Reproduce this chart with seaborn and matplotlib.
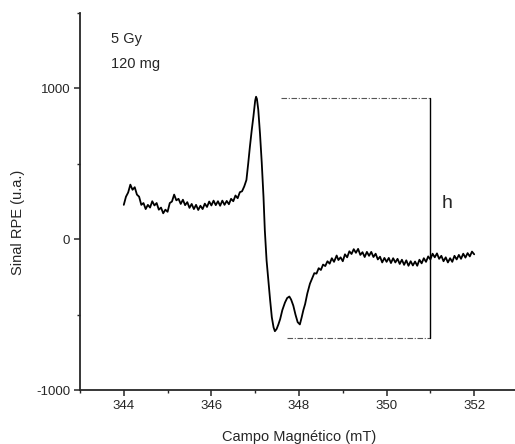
import matplotlib
matplotlib.use('Agg')
import matplotlib.pyplot as plt
import seaborn as sns
import pandas as pd
from matplotlib.ticker import MultipleLocator

# campo magnetico (mT) e sinal RPE (u.a.)
field = [
    344.00, 344.05, 344.10, 344.15, 344.20, 344.25, 344.30, 344.35, 344.40, 344.45,
    344.50, 344.55, 344.60, 344.65, 344.70, 344.75, 344.80, 344.85, 344.90, 344.95,
    345.00, 345.05, 345.10, 345.15, 345.20, 345.25, 345.30, 345.35, 345.40, 345.45,
    345.50, 345.55, 345.60, 345.65, 345.70, 345.75, 345.80, 345.85, 345.90, 345.95,
    346.00, 346.05, 346.10, 346.15, 346.20, 346.25, 346.30, 346.35, 346.40, 346.45,
    346.50, 346.55, 346.60, 346.65, 346.70, 346.75,
    346.80, 346.84, 346.88, 346.92, 346.96, 347.00, 347.02, 347.04, 347.07, 347.11,
    347.15, 347.19, 347.22, 347.26, 347.30, 347.34, 347.38, 347.42, 347.45, 347.49,
    347.53, 347.57, 347.62, 347.68, 347.73, 347.78, 347.82, 347.87, 347.92, 347.97,
    348.02, 348.06, 348.10, 348.14, 348.19, 348.25,
    348.30, 348.35, 348.40, 348.45, 348.50, 348.55, 348.60, 348.65, 348.70, 348.75,
    348.80, 348.86, 348.90, 348.95, 349.00, 349.05, 349.10, 349.15, 349.20, 349.25,
    349.30, 349.35, 349.40, 349.45, 349.50, 349.55, 349.60, 349.65, 349.70, 349.75,
    349.80, 349.85, 349.90, 349.95, 350.00, 350.05, 350.10, 350.15, 350.20, 350.25,
    350.30, 350.35, 350.40, 350.45, 350.50, 350.55, 350.60, 350.65, 350.70, 350.75,
    350.80, 350.85, 350.90, 350.95, 351.00, 351.05, 351.10, 351.15, 351.20, 351.25,
    351.30, 351.35, 351.40, 351.45, 351.50, 351.55, 351.60, 351.65, 351.70, 351.75,
    351.80, 351.85, 351.90, 351.95, 352.00,
]
signal = [
    228, 282, 310, 362, 328, 345, 296, 282, 228, 240,
    200, 228, 210, 252, 224, 240, 196, 210, 172, 196,
    182, 240, 250, 296, 258, 268, 234, 262, 226, 246,
    208, 234, 200, 228, 194, 222, 200, 236, 214, 250,
    224, 256, 226, 252, 222, 256, 228, 254, 232, 268,
    252, 290, 272, 312, 318, 350,
    393, 500, 615, 720, 815, 920, 945, 930, 860, 700,
    507, 280, 60, -140, -273, -400, -518, -585, -610, -595,
    -565, -530, -470, -420, -390, -380, -400, -440, -500, -550,
    -565, -520, -470, -430, -360, -295,
    -260, -225, -228, -192, -204, -168, -178, -146, -162, -126,
    -150, -108, -138, -120, -146, -100, -120, -80, -98, -66,
    -90, -64, -104, -86, -118, -84, -110, -84, -118, -96,
    -134, -116, -154, -124, -150, -124, -158, -126, -154, -130,
    -164, -136, -170, -140, -176, -146, -174, -148, -176, -136,
    -160, -126, -150, -114, -134, -96, -120, -94, -130, -110,
    -146, -120, -154, -126, -150, -110, -134, -104, -130, -96,
    -122, -92, -114, -82, -100,
]

# medida da altura pico-a-pico (h)
h_x = 351.0
h_top = 938
h_bottom = -658
top_start = 347.6
bottom_start = 347.72

x_ticks = [344, 346, 348, 350, 352]
y_ticks = [-1000, 0, 1000]

sns.set_style('ticks')
plt.rcParams['font.family'] = ['Liberation Sans', 'DejaVu Sans']
plt.rcParams['axes.unicode_minus'] = False

df = pd.DataFrame({'campo': field, 'sinal': signal})

fig = plt.figure(figsize=(5.15, 4.44), dpi=100)
ax = fig.add_axes([0.1553, 0.1216, 0.8505, 0.849])

sns.lineplot(data=df, x='campo', y='sinal', sort=False, estimator=None,
             color='black', linewidth=1.3, ax=ax)

dash_dot = (0, (5, 1.5, 1, 1.5))
ax.plot([top_start, h_x], [h_top, h_top], color='#555555', linewidth=0.8, linestyle=dash_dot)
ax.plot([bottom_start, h_x], [h_bottom, h_bottom], color='#555555', linewidth=0.8, linestyle=dash_dot)
ax.plot([h_x, h_x], [h_bottom, h_top], color='black', linewidth=1.0)

ax.text(351.38, 240, 'h', fontsize=14, va='center', ha='center')
ax.text(343.7, 1330, '5 Gy', fontsize=10.5, va='center', ha='left')
ax.text(343.7, 1160, '120 mg', fontsize=10.5, va='center', ha='left')

ax.set_xlim(343, 353)
ax.set_ylim(-1000, 1500)
ax.set_xticks(x_ticks)
ax.set_yticks(y_ticks)
ax.xaxis.set_minor_locator(MultipleLocator(1))
ax.yaxis.set_minor_locator(MultipleLocator(500))
ax.tick_params(which='major', direction='out', length=4, width=1.1, labelsize=9.5, pad=3)
ax.tick_params(which='minor', direction='out', length=2.5, width=1.0)

sns.despine(ax=ax)
for s in ['left', 'bottom']:
    ax.spines[s].set_linewidth(1.3)

ax.set_xlabel('Campo Magnético (mT)', fontsize=10.5)
ax.set_ylabel('Sinal RPE (u.a.)', fontsize=10.5)
ax.yaxis.set_label_coords(-0.125, 0.446)
ax.xaxis.set_label_coords(0.5, -0.105)

fig.savefig('out.png', dpi=100)
